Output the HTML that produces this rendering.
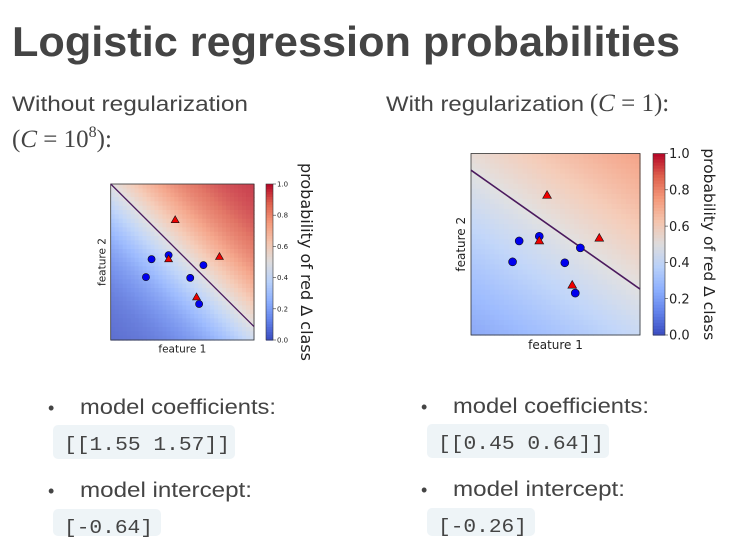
<!DOCTYPE html>
<html><head><meta charset="utf-8"><style>
body{margin:0;background:#fff;width:753px;height:558px;overflow:hidden}
svg{display:block}
.t{font-family:"Liberation Sans",sans-serif;fill:#444}
.m{font-family:"Liberation Mono",monospace;fill:#444}
.s{font-family:"DejaVu Sans","Liberation Sans",sans-serif;fill:#222}
</style></head><body>
<svg id="root" width="753" height="558">
<text x="12" y="56" class="t" font-weight="bold" font-size="42" textLength="668" lengthAdjust="spacingAndGlyphs">Logistic regression probabilities</text>
<text x="12" y="111" class="t" font-size="21" textLength="236" lengthAdjust="spacingAndGlyphs">Without regularization</text>
<text x="12" y="147" font-family="Liberation Serif,serif" font-size="25" fill="#444">(<tspan font-style="italic">C</tspan> = 10<tspan dy="-10" font-size="16">8</tspan><tspan dy="10">):</tspan></text>
<text x="386" y="111" class="t" font-size="21"><tspan textLength="198" lengthAdjust="spacingAndGlyphs">With regularization</tspan> <tspan font-family="Liberation Serif,serif" font-size="25">(<tspan font-style="italic">C</tspan> = 1):</tspan></text>
<g id="left-chart"></g>
<g id="right-chart"></g>
<text x="48" y="414" class="t" font-size="18">•</text>
<text x="80" y="414" class="t" font-size="21" textLength="196" lengthAdjust="spacingAndGlyphs">model coefficients:</text>
<rect x="53" y="425" width="182" height="34" rx="5" fill="#eef4f7"/>
<text x="64" y="450" class="m" font-size="19" textLength="166" lengthAdjust="spacingAndGlyphs">[[1.55 1.57]]</text>
<text x="48" y="497" class="t" font-size="18">•</text>
<text x="80" y="497" class="t" font-size="21" textLength="172" lengthAdjust="spacingAndGlyphs">model intercept:</text>
<rect x="53" y="509" width="108" height="27" rx="5" fill="#eef4f7"/>
<text x="64" y="533" class="m" font-size="19" textLength="89" lengthAdjust="spacingAndGlyphs">[-0.64]</text>
<text x="421" y="413" class="t" font-size="18">•</text>
<text x="453" y="413" class="t" font-size="21" textLength="196" lengthAdjust="spacingAndGlyphs">model coefficients:</text>
<rect x="427" y="424" width="182" height="34" rx="5" fill="#eef4f7"/>
<text x="438" y="449" class="m" font-size="19" textLength="166" lengthAdjust="spacingAndGlyphs">[[0.45 0.64]]</text>
<text x="421" y="496" class="t" font-size="18">•</text>
<text x="453" y="496" class="t" font-size="21" textLength="172" lengthAdjust="spacingAndGlyphs">model intercept:</text>
<rect x="427" y="508" width="108" height="28" rx="5" fill="#eef4f7"/>
<text x="438" y="532" class="m" font-size="19" textLength="89" lengthAdjust="spacingAndGlyphs">[-0.26]</text>
</svg>
<script>
// data in normalized feature space [0,1]
const blueX=[0.285,0.404,0.246,0.555,0.647,0.617];
const blueY=[0.518,0.544,0.403,0.398,0.480,0.231];
const redX=[0.450,0.404,0.759,0.599];
const redY=[0.771,0.520,0.535,0.276];
const cbTicks=[0.0,0.2,0.4,0.6,0.8,1.0];
// decision boundary: y at x=0 and x=1; steepness
const leftBoundary=[1.0,0.086], rightBoundary=[0.908,0.253];
const leftK=3.6, rightK=1.6;

const NS="http://www.w3.org/2000/svg";
function mk(p,tag,a){const e=document.createElementNS(NS,tag);for(const k in a)e.setAttribute(k,a[k]);p.appendChild(e);return e;}
const cw=[[0,[58,76,192]],[.125,[98,130,234]],[.25,[141,176,254]],[.375,[184,208,249]],[.5,[221,220,220]],[.625,[244,196,173]],[.75,[244,154,123]],[.875,[222,96,77]],[1,[180,4,38]]];
function coolwarm(v){v=Math.max(0,Math.min(1,v));for(let i=1;i<cw.length;i++){if(v<=cw[i][0]){const a=cw[i-1],b=cw[i],t=(v-a[0])/(b[0]-a[0]);return 'rgb('+a[1].map((c,j)=>Math.round(c+(b[1][j]-c)*t)).join(',')+')';}}return 'rgb(180,4,38)';}

function chart(g,o){
  const sx=v=>o.x0+v*(o.x1-o.x0), sy=v=>o.y1-v*(o.y1-o.y0);
  const b=o.bd, slope=b[1]-b[0];
  const N=36,cwid=(o.x1-o.x0)/N,ch=(o.y1-o.y0)/N;
  const hm=mk(g,'g',{opacity:0.85});
  
  
  for(let i=0;i<N;i++)for(let j=0;j<N;j++){
    const fx=(i+.5)/N, fy=1-(j+.5)/N;
    const z=o.k*(fy-(b[0]+slope*fx));
    const p=1/(1+Math.exp(-z));
    const r=mk(hm,'rect',{x:o.x0+i*cwid,y:o.y0+j*ch,width:cwid+0.6,height:ch+0.6,fill:coolwarm(p)});
    
    
  }
  const fr=mk(g,'rect',{x:o.x0,y:o.y0,width:o.x1-o.x0,height:o.y1-o.y0,fill:'none',stroke:'#333','stroke-width':0.8});
  
  
  const ln=mk(g,'line',{x1:sx(0),y1:sy(b[0]),x2:sx(1),y2:sy(b[1]),stroke:'#4b1a5e','stroke-width':o.r>3.8?1.6:1.3});
  
  
  for(let i=0;i<blueX.length;i++){
    const c=mk(g,'circle',{cx:sx(blueX[i]),cy:sy(blueY[i]),r:o.r,fill:'#0000ee',stroke:'#111','stroke-width':0.6});
    
    
  }
  for(let i=0;i<redX.length;i++){
    const x=sx(redX[i]),y=sy(redY[i]),s=o.r*1.1;
    const t=mk(g,'polygon',{points:`${x},${y-s} ${x+s},${y+s*0.75} ${x-s},${y+s*0.75}`,fill:'#ee0000',stroke:'#111','stroke-width':0.6});
    
    
  }
  const x1=mk(g,'text',{x:(o.x0+o.x1)/2,y:o.y1+o.fs+2,'font-size':o.fs,'text-anchor':'middle',class:'s'});
  x1.textContent='feature 1';
  
  
  const yx=o.x0-o.fs*0.5, ym=(o.y0+o.y1)/2;
  const y2=mk(g,'text',{x:yx,y:ym,'font-size':o.fs,'text-anchor':'middle',class:'s',transform:`rotate(-90 ${yx} ${ym})`});
  y2.textContent='feature 2';
  
  
  const cb=mk(g,'g',{});
  
  
  const M=60,hh=(o.y1-o.y0)/M;
  for(let i=0;i<M;i++){mk(cb,'rect',{x:o.cbx,y:o.y0+i*hh,width:o.cbw,height:hh+0.6,fill:coolwarm(1-(i+.5)/M)});}
  mk(cb,'rect',{x:o.cbx,y:o.y0,width:o.cbw,height:o.y1-o.y0,fill:'none',stroke:'#333','stroke-width':0.6});
  cbTicks.forEach(t=>{
    const y=o.y1-t*(o.y1-o.y0);
    mk(cb,'line',{x1:o.cbx+o.cbw,x2:o.cbx+o.cbw+3,y1:y,y2:y,stroke:'#333','stroke-width':0.6});
    const tx=mk(cb,'text',{x:o.cbx+o.cbw+4,y:y+o.tfs*0.36,'font-size':o.tfs,class:'s'});
    tx.textContent=t.toFixed(1);
    
    
  });
  const lx=o.lx, ly=(o.y0+o.y1)/2;
  const lb=mk(g,'text',{x:lx,y:ly,'font-size':o.lfs,'text-anchor':'middle',class:'s',transform:`rotate(90 ${lx} ${ly})`});
  lb.textContent='probability of red Δ class';
  
  
}
chart(document.getElementById('left-chart'),{x0:110.7,x1:254,y0:184,y1:340,bd:leftBoundary,k:leftK,r:3.6,fs:10.5,cbx:266,cbw:7,tfs:7,lx:301,lfs:16});
chart(document.getElementById('right-chart'),{x0:471,x1:640,y0:153.5,y1:335,bd:rightBoundary,k:rightK,r:4,fs:12,cbx:653,cbw:12,tfs:13,lx:704,lfs:15.5});
</script>
</body></html>
